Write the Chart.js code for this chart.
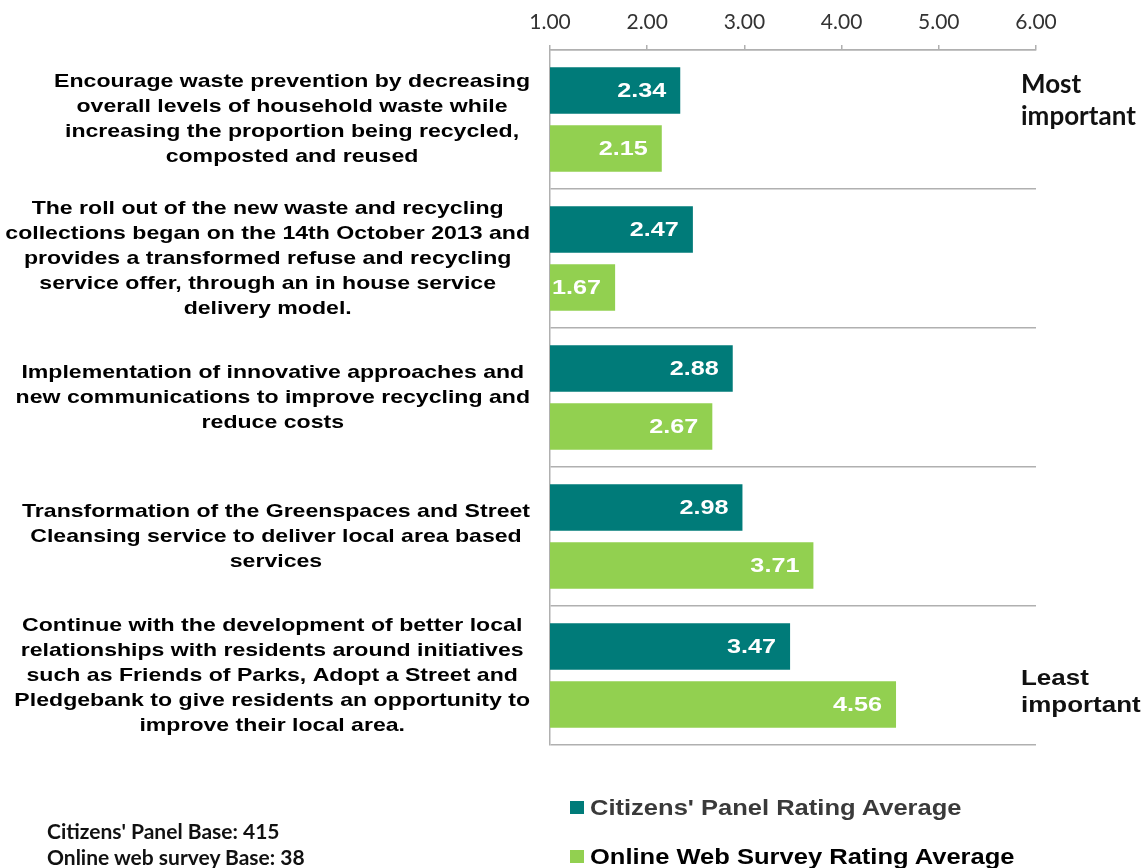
<!DOCTYPE html>
<html>
<head>
<meta charset="utf-8">
<script src="https://cdn.jsdelivr.net/npm/chart.js@4/dist/chart.umd.min.js"></script>
<style>
html,body{margin:0;padding:0;background:#fff;}
#wrap{position:relative;width:1144px;height:868px;overflow:hidden;}
#c{position:absolute;left:0;top:0;}
.most{position:absolute;left:1021px;top:67px;font-family:Lato,"Liberation Sans",sans-serif;font-weight:700;font-size:26px;line-height:32px;color:#111;}
.least{position:absolute;left:1021px;top:664px;font-family:"Liberation Sans",Arial,sans-serif;font-weight:700;font-size:22px;line-height:27px;color:#111;white-space:nowrap;}
.least span{display:inline-block;transform:scaleX(1.18);transform-origin:left center;}
.base{position:absolute;left:47px;font-family:Lato,"Liberation Sans",sans-serif;font-weight:700;font-size:21px;line-height:26px;color:#111;white-space:nowrap;}
.leg{position:absolute;left:570px;height:26px;line-height:26px;font-family:"Liberation Sans",Arial,sans-serif;font-weight:700;font-size:22px;white-space:nowrap;}
.leg .box{display:inline-block;width:14px;height:13px;margin-right:6px;vertical-align:middle;position:relative;top:-2px;}
.leg .txt{display:inline-block;transform:scaleX(1.16);transform-origin:left center;}
</style>
</head>
<body>
<div id="wrap">
<canvas id="c" width="1144" height="868"></canvas>
<div class="most">Most<br>important</div>
<div class="least"><span>Least</span><br><span>important</span></div>
<div class="base" style="top:818px;">Citizens' Panel Base: 415</div>
<div class="base" style="top:844px;">Online web survey Base: 38</div>
<div class="leg" id="leg1" style="top:795px;color:#3a3a3a;"></div>
<div class="leg" id="leg2" style="top:844px;color:#000;"></div>
</div>
<script>
const categories = [
  ["Encourage waste prevention by decreasing","overall levels of household waste while","increasing the proportion being recycled,","composted and reused"],
  ["The roll out of the new waste and recycling","collections began on the 14th October 2013 and","provides a transformed refuse and recycling","service offer, through an in house service","delivery model."],
  ["Implementation of innovative approaches and","new communications to improve recycling and","reduce costs"],
  ["Transformation of the Greenspaces and Street","Cleansing service to deliver local area based","services"],
  ["Continue with the development of better local","relationships with residents around initiatives","such as Friends of Parks, Adopt a Street and","Pledgebank to give residents an opportunity to","improve their local area."]
];
const seriesNames = ["Citizens' Panel Rating Average","Online Web Survey Rating Average"];
const citizensPanel = [2.34, 2.47, 2.88, 2.98, 3.47];
const onlineSurvey = [2.15, 1.67, 2.67, 3.71, 4.56];
const xTickValues = [1, 2, 3, 4, 5, 6];

const TEAL = '#007b79';
const GREEN = '#92d050';
const GRID = '#b0b0b0';

document.getElementById('leg1').innerHTML = '<span class="box" style="background:'+TEAL+'"></span><span class="txt">' + seriesNames[0] + '</span>';
document.getElementById('leg2').innerHTML = '<span class="box" style="background:'+GREEN+'"></span><span class="txt">' + seriesNames[1] + '</span>';

const valueLabels = {
  id: 'valueLabels',
  afterDatasetsDraw(chart) {
    const ctx = chart.ctx;
    chart.data.datasets.forEach((ds, di) => {
      const meta = chart.getDatasetMeta(di);
      meta.data.forEach((el, i) => {
        ctx.save();
        ctx.font = 'bold 21px "Liberation Sans", Arial, sans-serif';
        ctx.fillStyle = '#ffffff';
        ctx.textAlign = 'right';
        ctx.textBaseline = 'middle';
        ctx.translate(el.x - 14, el.y + 1);
        ctx.scale(1.2, 1);
        ctx.fillText(ds.data[i].toFixed(2), 0, 0);
        ctx.restore();
      });
    });
  }
};

const catLabels = {
  id: 'catLabels',
  afterDraw(chart) {
    const ctx = chart.ctx;
    const ys = chart.scales.y;
    const sx = 1.215;
    const lh = 25;
    ctx.save();
    ctx.font = 'bold 19px "Liberation Sans", Arial, sans-serif';
    ctx.fillStyle = '#000';
    ctx.textAlign = 'center';
    ctx.textBaseline = 'middle';
    categories.forEach((lines, i) => {
      const yc = ys.getPixelForValue(i);
      let widest = 0;
      lines.forEach(l => { widest = Math.max(widest, ctx.measureText(l).width); });
      const cx = ys.right - 20 - widest * sx / 2;
      const y0 = yc - (lines.length - 1) / 2 * lh;
      lines.forEach((l, k) => {
        ctx.save();
        ctx.translate(cx, y0 + k * lh);
        ctx.scale(sx, 1);
        ctx.fillText(l, 0, 0);
        ctx.restore();
      });
    });
    ctx.restore();
  }
};

new Chart(document.getElementById('c'), {
  type: 'bar',
  data: {
    labels: categories,
    datasets: [
      { label: seriesNames[0], data: citizensPanel, backgroundColor: TEAL, categoryPercentage: 0.835, barPercentage: 0.8 },
      { label: seriesNames[1], data: onlineSurvey, backgroundColor: GREEN, categoryPercentage: 0.835, barPercentage: 0.8 }
    ]
  },
  options: {
    indexAxis: 'y',
    responsive: false,
    animation: false,
    layout: { padding: { left: 0, top: 0, right: 108, bottom: 123 } },
    plugins: { legend: { display: false }, tooltip: { enabled: false } },
    scales: {
      x: {
        position: 'top',
        min: 1, max: 6,
        afterBuildTicks(scale) { scale.ticks = xTickValues.map(v => ({ value: v })); },
        afterFit(scale) { scale.height = 50; },
        ticks: {
          callback: v => Number(v).toFixed(2),
          font: { family: 'Lato, "Liberation Sans", sans-serif', size: 21 },
          color: '#333',
          padding: 10
        },
        grid: { drawOnChartArea: false, drawTicks: true, tickLength: 5, color: GRID, lineWidth: 1.5 },
        border: { display: true, color: GRID, width: 1.5 }
      },
      y: {
        afterFit(scale) { scale.width = 550; },
        ticks: { display: false },
        grid: { offset: true, drawTicks: false, color: GRID, lineWidth: 1.5 },
        border: { display: true, color: GRID, width: 1.5 }
      }
    }
  },
  plugins: [valueLabels, catLabels]
});
</script>
</body>
</html>
